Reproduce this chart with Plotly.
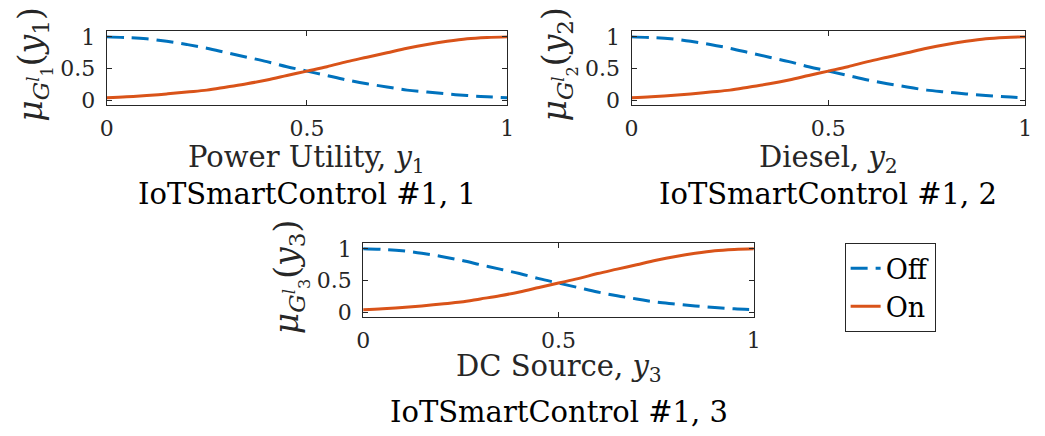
import plotly.graph_objects as go

# membership values (same shape in all three panels)
x_vals = [0.0, 0.05, 0.1, 0.15, 0.2, 0.25, 0.3, 0.35, 0.4, 0.45, 0.5,
          0.55, 0.6, 0.65, 0.7, 0.75, 0.8, 0.85, 0.9, 0.95, 1.0]
off_vals = [1.0, 0.99, 0.97, 0.93, 0.88, 0.82, 0.75, 0.68, 0.61, 0.53, 0.46,
            0.39, 0.32, 0.26, 0.21, 0.16, 0.13, 0.10, 0.075, 0.055, 0.04]
on_vals = [0.04, 0.055, 0.075, 0.10, 0.13, 0.16, 0.21, 0.26, 0.32, 0.39, 0.46,
           0.53, 0.61, 0.68, 0.75, 0.82, 0.88, 0.93, 0.97, 0.99, 1.0]

x_ticks = [0, 0.5, 1]
x_tick_text = ["0", "0.5", "1"]
y_ticks = [0, 0.5, 1]
y_tick_text = ["0", "0.5", "1"]

x_labels = ["Power Utility, <i>y</i><sub>1</sub>",
            "Diesel, <i>y</i><sub>2</sub>",
            "DC Source, <i>y</i><sub>3</sub>"]
titles = ["IoTSmartControl #1, 1", "IoTSmartControl #1, 2", "IoTSmartControl #1, 3"]
y_labels = ["<i>μ</i><sub><i>G</i><sup><i>l</i></sup><sub>1</sub></sub>(<i>y</i><sub>1</sub>)",
            "<i>μ</i><sub><i>G</i><sup><i>l</i></sup><sub>2</sub></sub>(<i>y</i><sub>2</sub>)",
            "<i>μ</i><sub><i>G</i><sup><i>l</i></sup><sub>3</sub></sub>(<i>y</i><sub>3</sub>)"]
series_names = ["Off", "On"]

W, H = 1045, 436
FONT = "DejaVu Serif"
AX = "#262626"
BLUE = "#0072BD"
ORANGE = "#D95319"

# panel pixel boxes (left, right, top, bottom)
boxes = [(101, 507, 26, 102), (633, 1032, 26, 102), (361, 757, 245, 321)]
label_y = [(158, 194), (158, 194), (374, 419)]

fig = go.Figure()
layout = {}
for i, (l, r, t, b) in enumerate(boxes):
    n = "" if i == 0 else str(i + 1)
    xa = "x" + n
    ya = "y" + n
    fig.add_trace(go.Scatter(x=x_vals, y=off_vals, mode="lines", name=series_names[0],
                             line=dict(color=BLUE, width=3, dash="17px,8px", shape="spline"),
                             showlegend=(i == 0), legendgroup="off",
                             xaxis=xa, yaxis=ya))
    fig.add_trace(go.Scatter(x=x_vals, y=on_vals, mode="lines", name=series_names[1],
                             line=dict(color=ORANGE, width=3, shape="spline"),
                             showlegend=(i == 0), legendgroup="on",
                             xaxis=xa, yaxis=ya))
    common = dict(showline=True, linecolor=AX, linewidth=1, mirror="ticks",
                  ticks="inside", ticklen=5, tickcolor=AX, showgrid=False,
                  zeroline=False, tickfont=dict(family=FONT, size=22, color=AX))
    layout["xaxis" + n] = dict(domain=[l / W, r / W], range=[0, 1], anchor=ya,
                               tickvals=x_ticks, ticktext=x_tick_text,
                               ticklabelstandoff=4, **common)
    layout["yaxis" + n] = dict(domain=[1 - b / H, 1 - t / H], range=[-0.07, 1.09], anchor=xa,
                               tickvals=y_ticks, ticktext=y_tick_text,
                               ticklabelstandoff=6, **common)

annotations = []
for i, (l, r, t, b) in enumerate(boxes):
    cx = (l + r) / 2 / W
    annotations.append(dict(x=cx, y=1 - label_y[i][0] / H, xref="paper", yref="paper",
                            text=x_labels[i], showarrow=False, xanchor="center", yanchor="middle",
                            font=dict(family=FONT, size=29, color=AX)))
    annotations.append(dict(x=cx, y=1 - label_y[i][1] / H, xref="paper", yref="paper",
                            text=titles[i], showarrow=False, xanchor="center", yanchor="middle",
                            font=dict(family=FONT, size=29, color="#000000")))
    annotations.append(dict(x=(l - 74) / W, y=1 - ((t + b) / 2 - 3) / H, xref="paper", yref="paper",
                            text=y_labels[i], showarrow=False, textangle=-90,
                            xanchor="center", yanchor="middle",
                            font=dict(family=FONT, size=33, color=AX)))

fig.update_layout(
    width=W, height=H,
    margin=dict(l=0, r=0, t=0, b=0),
    paper_bgcolor="white", plot_bgcolor="white",
    annotations=annotations,
    legend=dict(x=849 / W, y=1 - 245 / H, xanchor="left", yanchor="top",
                bordercolor=AX, borderwidth=1, bgcolor="white",
                font=dict(family=FONT, size=27, color="#000000"),
                traceorder="grouped", tracegroupgap=0, itemwidth=30),
    **layout,
)

fig.write_html("out.html", config={"displayModeBar": False},
               post_script="document.body.style.margin='0';document.body.style.padding='0';")
